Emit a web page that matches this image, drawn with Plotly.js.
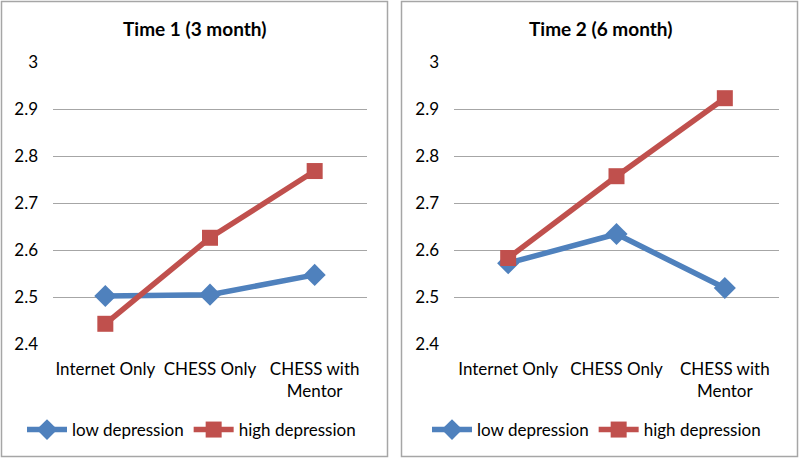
<!DOCTYPE html>
<html><head><meta charset="utf-8">
<script src="https://cdn.plot.ly/plotly-3.0.1.min.js"></script>
<style>html,body{margin:0;padding:0;background:#fff}#c{width:800px;height:458px}</style>
</head><body><div id="c"></div>
<script>
const categories = ["Internet Only", "CHESS Only", "CHESS with<br>Mentor"];
const t1Low = [2.502, 2.505, 2.547];
const t1High = [2.443, 2.626, 2.768];
const t2Low = [2.572, 2.634, 2.519];
const t2High = [2.583, 2.757, 2.923];
const panelTitles = ["Time 1 (3 month)", "Time 2 (6 month)"];
const seriesNames = ["low depression", "high depression"];

const BLUE = "#4F81BD", RED = "#C0504D";
const FONT = "Lato, 'Open Sans', sans-serif";

function tr(y, name, color, sym, size, xa, ya, leg) {
  return {x: categories, y: y, name: name, type: "scatter", mode: "lines+markers",
    xaxis: xa, yaxis: ya, legend: leg,
    line: {color: color, width: 5.5},
    marker: {symbol: sym, size: size, color: color}};
}
const data = [
  tr(t1Low, seriesNames[0], BLUE, "diamond", 17, "x", "y", "legend"),
  tr(t1High, seriesNames[1], RED, "square", 16, "x", "y", "legend"),
  tr(t2Low, seriesNames[0], BLUE, "diamond", 17, "x2", "y2", "legend2"),
  tr(t2High, seriesNames[1], RED, "square", 16, "x2", "y2", "legend2")
];

const yb = 1 - 344/458, yt = 1 - 62/458;
const xaxisBase = {type: "category", range: [-0.5, 2.5], showgrid: false, zeroline: false,
  showline: false, ticks: "", tickfont: {family: FONT, size: 17, color: "#000"},
  ticklabelstandoff: 13, fixedrange: true};
const yaxisBase = {range: [2.4, 3], dtick: 0.1, tick0: 2.4, showgrid: true, gridcolor: "#A6A6A6",
  gridwidth: 1, zeroline: false, showline: false, ticks: "",
  tickfont: {family: FONT, size: 17, color: "#000"}, ticklabelstandoff: 14, fixedrange: true};

const legBase = {orientation: "h", xanchor: "left", yanchor: "middle", itemwidth: 40,
  font: {family: FONT, size: 17, color: "#000"}, bgcolor: "rgba(0,0,0,0)", tracegroupgap: 0};

const layout = {
  width: 800, height: 458, margin: {l: 0, r: 0, t: 0, b: 0},
  paper_bgcolor: "#fff", plot_bgcolor: "#fff", showlegend: true,
  xaxis: Object.assign({}, xaxisBase, {domain: [53/800, 367/800], anchor: "y"}),
  yaxis: Object.assign({}, yaxisBase, {domain: [yb, yt], anchor: "x"}),
  xaxis2: Object.assign({}, xaxisBase, {domain: [454/800, 779/800], anchor: "y2"}),
  yaxis2: Object.assign({}, yaxisBase, {domain: [yb, yt], anchor: "x2"}),
  legend: Object.assign({}, legBase, {x: 22/800, y: 1 - 430/458}),
  legend2: Object.assign({}, legBase, {x: 427/800, y: 1 - 430/458}),
  annotations: [
    {text: "<b>" + panelTitles[0] + "</b>", xref: "paper", yref: "paper", x: 194/800, y: 1 - 28/458,
     showarrow: false, xanchor: "center", yanchor: "middle", font: {family: FONT, size: 19, color: "#000"}},
    {text: "<b>" + panelTitles[1] + "</b>", xref: "paper", yref: "paper", x: 600/800, y: 1 - 28/458,
     showarrow: false, xanchor: "center", yanchor: "middle", font: {family: FONT, size: 19, color: "#000"}}
  ],
  shapes: [
    {type: "rect", xref: "paper", yref: "paper", x0: 1.5/800, x1: 387.5/800, y0: 1 - 456.5/458, y1: 1 - 1.5/458,
     line: {color: "#A6A6A6", width: 1.5}},
    {type: "rect", xref: "paper", yref: "paper", x0: 401.5/800, x1: 797.5/800, y0: 1 - 456.5/458, y1: 1 - 1.5/458,
     line: {color: "#A6A6A6", width: 1.5}}
  ]
};

Plotly.newPlot("c", data, layout, {displayModeBar: false, staticPlot: true});
</script></body></html>
